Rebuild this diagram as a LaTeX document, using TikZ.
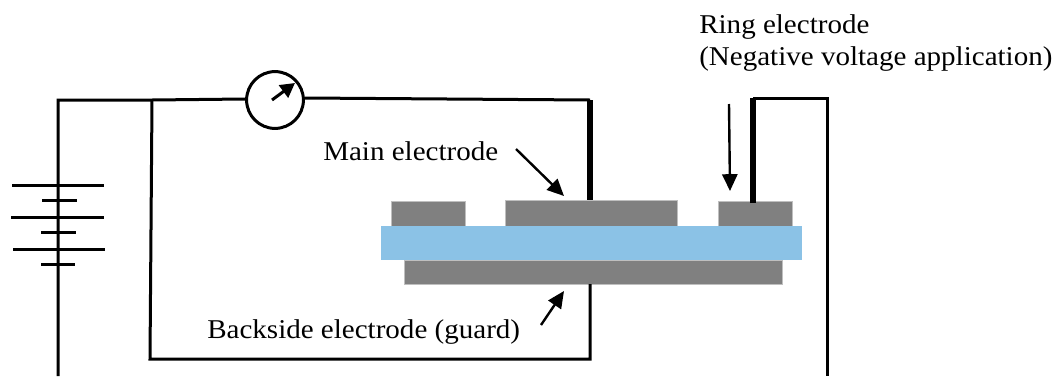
\documentclass[tikz,border=0pt]{standalone}
\usepackage{fontspec}
\setmainfont[FakeStretch=1.07]{Liberation Serif}
\usetikzlibrary{arrows.meta}
\tikzset{
  wire/.style={line width=0.075cm},
  thickwire/.style={line width=0.13cm},
  pointer/.style={line width=0.06cm, -{Triangle[length=0.42cm,width=0.38cm]}},
  electrode/.style={fill=gray, draw=lightgray, line width=0.01cm, inner sep=0, anchor=north west},
  label/.style={inner sep=0, anchor=base west, font=\fontsize{19.3pt}{21pt}\selectfont},
}
\begin{document}
\begin{tikzpicture}[x=0.025cm,y=-0.025cm]
    \useasboundingbox (0,0) rectangle (1059,376);

    % Sample
    \node[electrode, minimum width=1.85cm, minimum height=0.625cm] (guardleft) at (391,201) {};
    \node[electrode, minimum width=4.3cm, minimum height=0.65cm] (main) at (505,200) {};
    \node[electrode, minimum width=1.85cm, minimum height=0.625cm] (ring) at (718,201) {};
    \node[electrode, minimum width=9.45cm, minimum height=0.6cm] (back) at (404,260) {};
    \node[electrode, fill={rgb,255:red,139;green,194;blue,230}, draw=none, minimum width=10.52cm, minimum height=0.85cm] (film) at (381,226) {};

    % Corners of the circuit
    \coordinate (A) at (58,376);
    \coordinate (B) at (58,100);
    \coordinate (C) at (152,100);
    \coordinate (Mw) at (245,99);
    \coordinate (Me) at (305,98);
    \coordinate (D) at (590,100);
    \coordinate (Dm) at (590,200);
    \coordinate (Db) at (590,284);
    \coordinate (E) at (590,359);
    \coordinate (F) at (150,359);
    \coordinate (G) at (753,98);
    \coordinate (Gr) at (753,203);
    \coordinate (H) at (827,98);
    \coordinate (I) at (827,376);

    % Meter
    \node[circle, draw, wire, minimum size=1.42cm, inner sep=0] (meter) at (275,100) {};
    \coordinate (Ma) at (272,100);
    \coordinate (Mb) at (295,83);
    \draw[wire, -{Triangle[length=0.36cm,width=0.38cm]}] (Ma) -- (Mb);

    % Wires
    \draw[wire] (A) -- (B) -- (C) -- (Mw);
    \draw[wire] (Me) -- (D);
    \draw[thickwire] (D) -- (Dm);
    \draw[wire] (C) -- (F) -- (E) -- (Db);
    \draw[thickwire] (Gr) -- (G);
    \draw[wire] (G) -- (H) -- (I);

    % Battery
    \foreach \n/\xa/\xb/\y in {1/12/104/185, 2/42/77/200, 3/11/104/217, 4/41/76/232, 5/13/105/249, 6/41/75/264}
    {
      \coordinate (Bl\n) at (\xa,\y);
      \coordinate (Br\n) at (\xb,\y);
      \draw[wire] (Bl\n) -- (Br\n);
    }

    % Labels
    \node[label] (ringlabel) at (699,33) {Ring electrode};
    \node[label] (ringnote) at (699,65) {(Negative voltage application)};
    \node[label] (mainlabel) at (323,160) {Main electrode};
    \node[label] (backlabel) at (207,338) {Backside electrode (guard)};

    % Arrows
    \coordinate (Pa) at (516,149);
    \coordinate (Pb) at (564,196);
    \coordinate (Qa) at (729,104);
    \coordinate (Qb) at (730,191);
    \coordinate (Ra) at (541,325);
    \coordinate (Rb) at (564,291);
    \draw[pointer] (Pa) -- (Pb);
    \draw[pointer] (Qa) -- (Qb);
    \draw[pointer] (Ra) -- (Rb);
\end{tikzpicture}
\end{document}
